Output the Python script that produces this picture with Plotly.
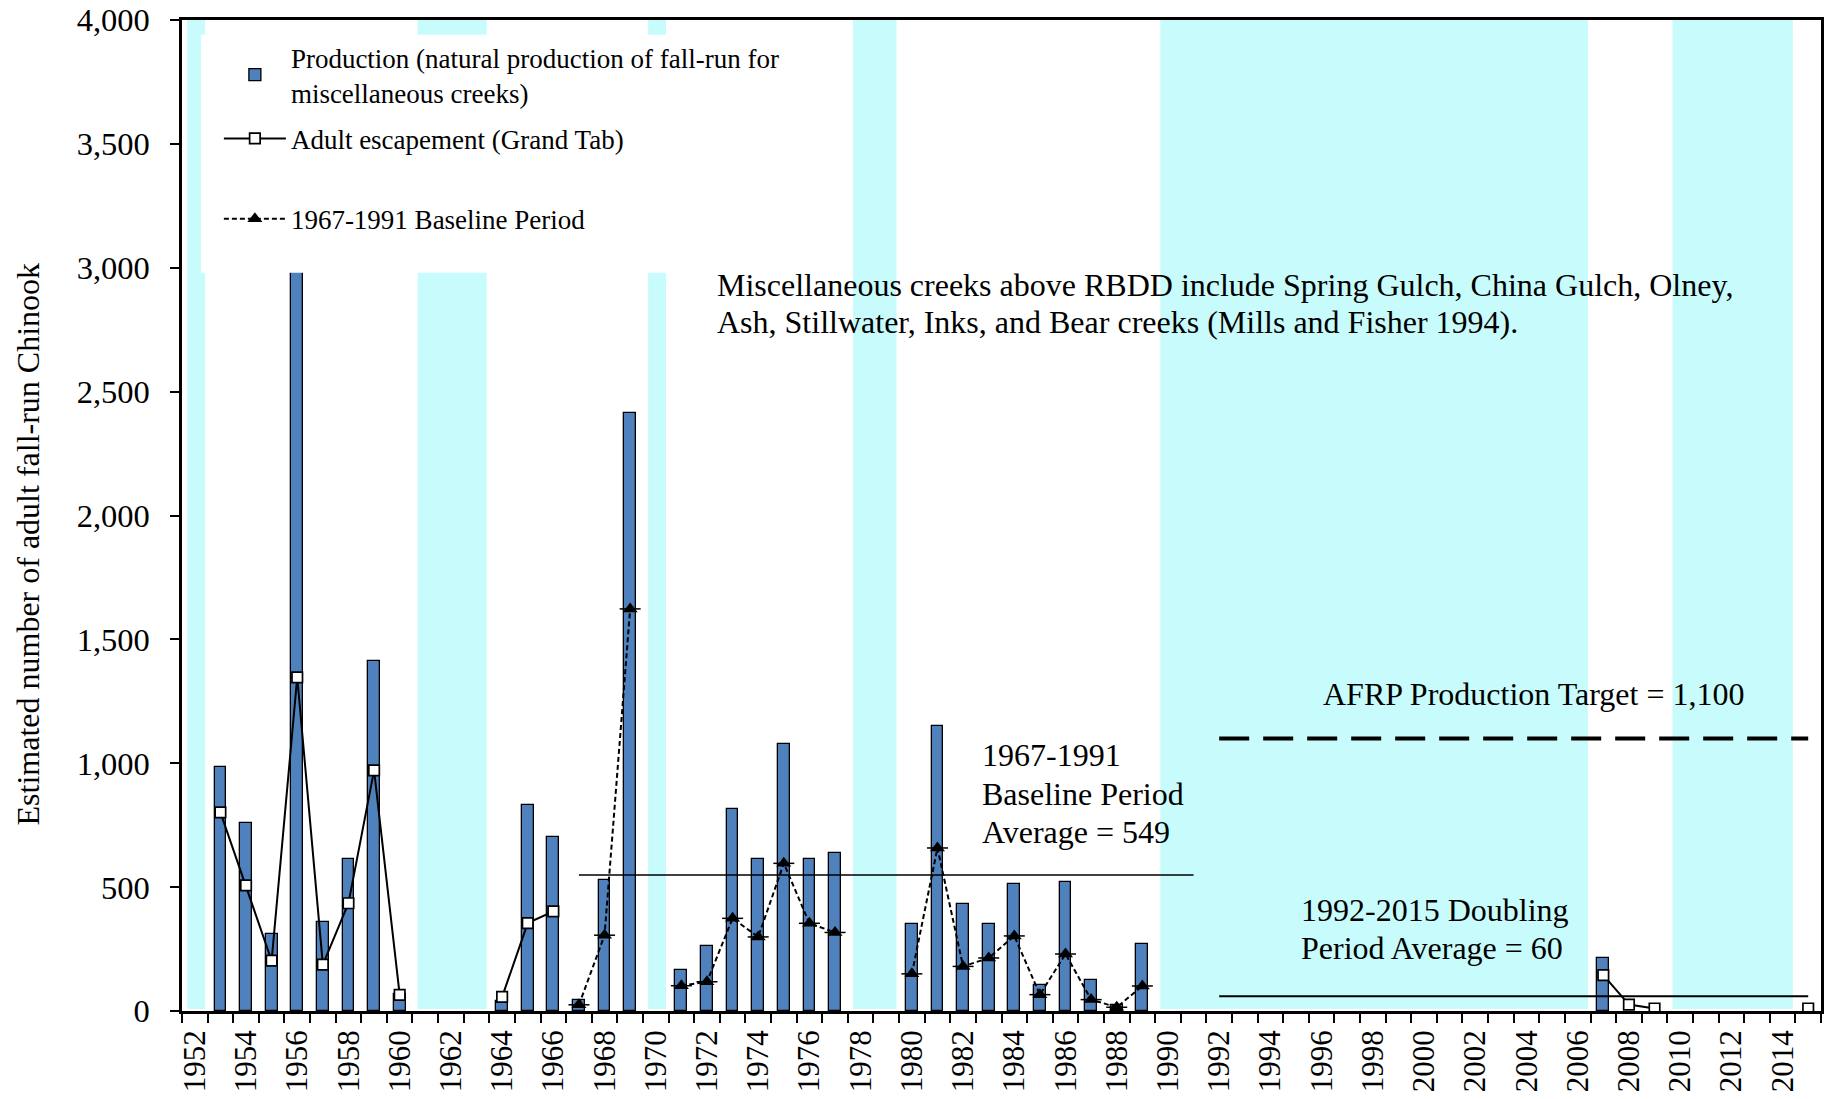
import plotly.graph_objects as go

# ---------------- data ----------------
years = list(range(1952, 2016))

prod_years = [1953, 1954, 1955, 1956, 1957, 1958, 1959, 1960,
              1964, 1965, 1966, 1967, 1968, 1969,
              1971, 1972, 1973, 1974, 1975, 1976, 1977,
              1980, 1981, 1982, 1983, 1984, 1985, 1986, 1987, 1988, 1989,
              2007]
prod_values = [983, 757, 310, 3500, 358, 614, 1414, 70,
               40, 830, 703, 45, 528, 2415,
               167, 262, 815, 615, 1078, 615, 638,
               352, 1152, 431, 351, 512, 105, 520, 127, 25, 271,
               212]

esc_years = [1953, 1954, 1955, 1956, 1957, 1958, 1959, 1960,
             1964, 1965, 1966, 2007, 2008, 2009, 2015]
esc_values = [802, 507, 203, 1347, 187, 435, 971, 65,
              57, 355, 402, 145, 26, 10, 10]

base_years = [1967, 1968, 1969, 1971, 1972, 1973, 1974, 1975, 1976, 1977,
              1980, 1981, 1982, 1983, 1984, 1985, 1986, 1987, 1988, 1989]
base_values = [25, 306, 1623, 102, 118, 374, 299, 596, 354, 317,
               150, 658, 180, 214, 303, 66, 230, 46, 15, 101]

baseline_period = [1967, 1991]
baseline_avg = 549
doubling_period = [1992, 2015]
doubling_avg = 60
afrp_target = 1100

band_first_years = [1952, 1961, 1970, 1978, 1990, 2010]
band_last_years = [1952, 1963, 1970, 1979, 2006, 2014]

x_tick_years = list(range(1952, 2015, 2))
x_tick_labels = [str(y) for y in x_tick_years]
y_tick_values = list(range(0, 4001, 500))

# ---------------- figure ----------------
FONT = "Liberation Serif"
esc_map = dict(zip(esc_years, esc_values))
base_map = dict(zip(base_years, base_values))
esc_series = [esc_map.get(y) for y in years]
base_series = [base_map.get(y) for y in years]

fig = go.Figure()

fig.add_trace(go.Bar(
    x=prod_years, y=prod_values, width=0.46,
    marker=dict(color="#4f81bd", line=dict(color="black", width=1.3)),
    name="Production (natural production of fall-run for<br>miscellaneous creeks)",
    legend="legend",
))

fig.add_trace(go.Scatter(
    x=[baseline_period[0], baseline_period[1]], y=[baseline_avg, baseline_avg],
    mode="lines", line=dict(color="black", width=1.6),
    showlegend=False, hoverinfo="skip",
))
fig.add_trace(go.Scatter(
    x=[doubling_period[0], doubling_period[1]], y=[doubling_avg, doubling_avg],
    mode="lines", line=dict(color="black", width=2),
    showlegend=False, hoverinfo="skip",
))
fig.add_trace(go.Scatter(
    x=[doubling_period[0], doubling_period[1]], y=[afrp_target, afrp_target],
    mode="lines", line=dict(color="black", width=4, dash="30px,14px"),
    showlegend=False, hoverinfo="skip",
))

fig.add_trace(go.Scatter(
    x=years, y=esc_series, mode="lines+markers", connectgaps=False,
    line=dict(color="black", width=2),
    marker=dict(symbol="square", size=10.5, color="white",
                line=dict(color="black", width=1.7)),
    name="Adult escapement (Grand Tab)", legend="legend2",
))

fig.add_trace(go.Scatter(
    x=years, y=base_series, mode="markers", connectgaps=False,
    marker=dict(symbol="line-ew", size=15, line=dict(color="black", width=1.5)),
    showlegend=False, hoverinfo="skip",
))
fig.add_trace(go.Scatter(
    x=years, y=base_series, mode="lines+markers", connectgaps=False,
    line=dict(color="black", width=2, dash="5px,3px"),
    marker=dict(symbol="triangle-up", size=13, color="black"),
    name="1967-1991 Baseline Period", legend="legend3",
))

shapes = []
for a, b in zip(band_first_years, band_last_years):
    shapes.append(dict(type="rect", xref="x", yref="paper",
                       x0=a - 0.3, x1=b + 0.4, y0=0.002, y1=1,
                       fillcolor="#c8fcfc", line=dict(width=0), layer="below"))
# white legend box covering plot content
shapes.append(dict(type="rect", xref="paper", yref="paper",
                   x0=0.0116, x1=0.387, y0=0.745, y1=0.985,
                   fillcolor="white", line=dict(width=0), layer="above"))

ann_font = dict(family=FONT, size=32, color="black")
annotations = []
def add_text(text, x, y):
    annotations.append(dict(text=text, x=x, y=y, xref="x", yref="y",
                            xanchor="left", yanchor="middle", showarrow=False,
                            font=ann_font))

add_text("Miscellaneous creeks above RBDD include Spring Gulch, China Gulch, Olney,", 1972.3, 2932)
add_text("Ash, Stillwater, Inks, and Bear creeks (Mills and Fisher 1994).", 1972.3, 2781)
add_text("1967-1991", 1982.65, 1034)
add_text("Baseline Period", 1982.65, 874)
add_text("Average = 549", 1982.65, 724)
add_text("AFRP Production Target = 1,100", 1995.97, 1280)
add_text("1992-2015 Doubling", 1995.13, 408)
add_text("Period Average = 60", 1995.13, 253)

# y-axis title (placed as rotated text to match the reference's vertical offset)
annotations.append(dict(text="Estimated number of adult fall-run Chinook",
                        xref="paper", yref="paper", x=-0.094, y=0.4717,
                        xanchor="center", yanchor="middle", textangle=-90,
                        showarrow=False, font=dict(family=FONT, size=32, color="black")))

leg_common = dict(xanchor="left", yanchor="middle", bgcolor="rgba(0,0,0,0)",
                  borderwidth=0, itemwidth=62,
                  font=dict(family=FONT, size=27, color="black"))

fig.update_layout(
    width=1829, height=1099,
    margin=dict(l=182, r=8, t=20, b=88),
    paper_bgcolor="white", plot_bgcolor="white",
    font=dict(family=FONT, size=32, color="black"),
    bargap=0,
    shapes=shapes,
    annotations=annotations,
    legend=dict(x=0.0225, y=0.9445, **leg_common),
    legend2=dict(x=0.0225, y=0.880, **leg_common),
    legend3=dict(x=0.0225, y=0.799, **leg_common),
    xaxis=dict(
        range=[1951.5, 2015.5], tickmode="array", automargin=False,
        tickvals=x_tick_years, ticktext=x_tick_labels, tickangle=-90,
        ticks="outside", ticklen=0, showgrid=False, zeroline=False,
        showline=True, linecolor="black", linewidth=2.5, mirror=True,
        tickfont=dict(family=FONT, size=31, color="black"),
        ticklabelstandoff=4,
        minor=dict(tickmode="linear", tick0=1951.5, dtick=1, ticks="outside",
                   ticklen=9, tickwidth=1.5, tickcolor="black", showgrid=False),
    ),
    yaxis=dict(
        range=[0, 4000], tickmode="array", tickvals=y_tick_values,
        automargin=False,
        tickformat=",", ticks="outside", ticklen=9, tickwidth=1.5,
        tickcolor="black", showgrid=False, zeroline=False,
        showline=True, linecolor="black", linewidth=2.5, mirror=True,
        tickfont=dict(family=FONT, size=32.5, color="black"),
        ticklabelstandoff=14,
    ),
)

fig.write_html(
    "out.html",
    config={"displayModeBar": False},
    post_script="document.body.style.margin='0';document.body.style.overflow='hidden';",
)
